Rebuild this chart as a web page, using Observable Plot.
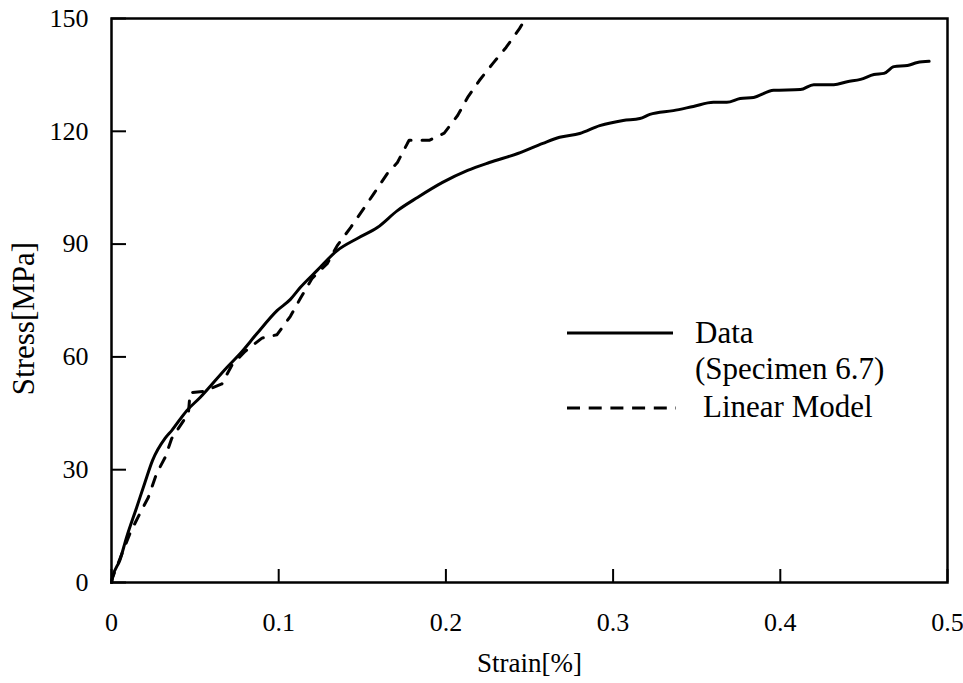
<!DOCTYPE html>
<html>
<head>
<meta charset="utf-8">
<script src="https://cdn.jsdelivr.net/npm/d3@7"></script>
<script src="https://cdn.jsdelivr.net/npm/@observablehq/plot@0.6"></script>
<style>
  html, body { margin: 0; padding: 0; background: #fff; }
  #wrap { position: relative; width: 963px; height: 683px; }
  #legend { position: absolute; left: 0; top: 0; pointer-events: none; }
  svg { font-family: "Liberation Serif", "Times New Roman", serif; }
</style>
</head>
<body>
<div id="wrap"></div>
<script>
// Measured data (Specimen 6.7): strain [%] and stress [MPa]
const dataStrain = [0, 0.0006, 0.005, 0.009, 0.015, 0.020, 0.0245, 0.032, 0.036, 0.045, 0.053, 0.069, 0.077, 0.087, 0.099, 0.107, 0.113, 0.123, 0.135, 0.147, 0.159, 0.171, 0.183, 0.198, 0.213, 0.226, 0.243, 0.258, 0.268, 0.280, 0.292, 0.306, 0.316, 0.322, 0.336, 0.348, 0.360, 0.368, 0.376, 0.384, 0.396, 0.412, 0.420, 0.432, 0.440, 0.448, 0.456, 0.462, 0.468, 0.476, 0.482, 0.489];
const dataStress = [0, 1.3, 5.9, 12.0, 19.9, 26.6, 32.4, 38.3, 40.4, 45.7, 49.2, 57.2, 60.9, 66.2, 72.3, 75.3, 78.5, 83.0, 88.3, 91.5, 94.4, 98.9, 102.4, 106.4, 109.6, 111.7, 114.1, 116.8, 118.4, 119.4, 121.5, 122.9, 123.4, 124.5, 125.5, 126.6, 127.7, 127.7, 128.7, 129.0, 130.9, 131.1, 132.4, 132.4, 133.2, 133.8, 135.1, 135.4, 137.2, 137.5, 138.3, 138.6];

// Linear model
const modelStrain = [0, 0.0006, 0.011, 0.017, 0.022, 0.027, 0.032, 0.036, 0.046, 0.047, 0.055, 0.066, 0.072, 0.080, 0.090, 0.099, 0.107, 0.113, 0.120, 0.129, 0.135, 0.143, 0.150, 0.157, 0.165, 0.171, 0.177, 0.178, 0.190, 0.199, 0.207, 0.213, 0.220, 0.228, 0.236, 0.244, 0.247];
const modelStress = [0, 1.3, 13.0, 18.4, 22.6, 29.0, 33.2, 38.3, 45.0, 50.5, 50.8, 52.8, 57.8, 61.5, 65.0, 65.9, 70.8, 75.6, 80.9, 84.8, 89.6, 94.4, 98.9, 103.5, 108.8, 111.7, 116.8, 117.6, 117.6, 119.5, 124.2, 129.0, 133.5, 138.0, 142.3, 147.3, 149.5];

const xTicks = [0, 0.1, 0.2, 0.3, 0.4, 0.5];
const xTickLabels = ["0", "0.1", "0.2", "0.3", "0.4", "0.5"];
const yTicks = [0, 30, 60, 90, 120, 150];

const xTitle = "Strain[%]";
const yTitle = "Stress[MPa]";
const seriesNames = ["Data", "(Specimen 6.7)", "Linear Model"];

const W = 963, H = 683;
const mL = 111, mR = 16, mT = 18, mB = 101;
const plotW = W - mL - mR, plotH = H - mT - mB;

const dataRows = dataStrain.map((x, i) => ({x, y: dataStress[i]}));
const modelRows = modelStrain.map((x, i) => ({x, y: modelStress[i]}));

const chart = Plot.plot({
  width: W,
  height: H,
  marginLeft: mL,
  marginRight: mR,
  marginTop: mT,
  marginBottom: mB,
  style: {fontFamily: "'Liberation Serif', 'Times New Roman', serif", fontSize: "26px", color: "#000", background: "#fff"},
  x: {domain: [0, 0.5]},
  y: {domain: [0, 150]},
  marks: [
    Plot.line(dataRows, {x: "x", y: "y", stroke: "#000", strokeWidth: 3, curve: "monotone-x"}),
    Plot.line(modelRows, {x: "x", y: "y", stroke: "#000", strokeWidth: 3, strokeDasharray: "10,11", curve: "linear"}),
    // inward ticks
    Plot.ruleY(yTicks, {y: d => d, stroke: "#000", strokeWidth: 2, insetRight: plotW - 15}),
    Plot.ruleX(xTicks, {x: d => d, stroke: "#000", strokeWidth: 2, insetTop: plotH - 13}),
    Plot.axisY(yTicks, {tickSize: 0, tickPadding: 23, fontSize: 26, label: null}),
    Plot.axisX(xTicks, {tickSize: 0, tickPadding: 30, fontSize: 26, tickFormat: (d) => xTickLabels[xTicks.indexOf(d)], label: null}),
    Plot.text([yTitle], {text: d => d, frameAnchor: "left", rotate: -90, dx: -87, dy: 18, fontSize: 31, textAnchor: "middle", lineAnchor: "middle", fill: "#000"}),
    Plot.text([xTitle], {text: d => d, frameAnchor: "bottom", dy: 81, fontSize: 27, textAnchor: "middle", lineAnchor: "middle", fill: "#000"}),
    Plot.frame({stroke: "#000", strokeWidth: 2.5})
  ]
});

const wrap = document.getElementById("wrap");
wrap.appendChild(chart);

// Legend overlay
const ns = "http://www.w3.org/2000/svg";
const leg = document.createElementNS(ns, "svg");
leg.setAttribute("id", "legend");
leg.setAttribute("width", W);
leg.setAttribute("height", H);
function el(tag, attrs, text) {
  const e = document.createElementNS(ns, tag);
  for (const k in attrs) e.setAttribute(k, attrs[k]);
  if (text) e.textContent = text;
  leg.appendChild(e);
  return e;
}
el("line", {x1: 567, x2: 673, y1: 333, y2: 333, stroke: "#000", "stroke-width": 3});
el("line", {x1: 567, x2: 676, y1: 408, y2: 408, stroke: "#000", "stroke-width": 3, "stroke-dasharray": "13,8.7"});
el("text", {x: 695, y: 343, "font-size": 31, fill: "#000"}, seriesNames[0]);
el("text", {x: 695, y: 379, "font-size": 31, fill: "#000"}, seriesNames[1]);
el("text", {x: 703, y: 417, "font-size": 31, fill: "#000"}, seriesNames[2]);
wrap.appendChild(leg);
</script>
</body>
</html>
